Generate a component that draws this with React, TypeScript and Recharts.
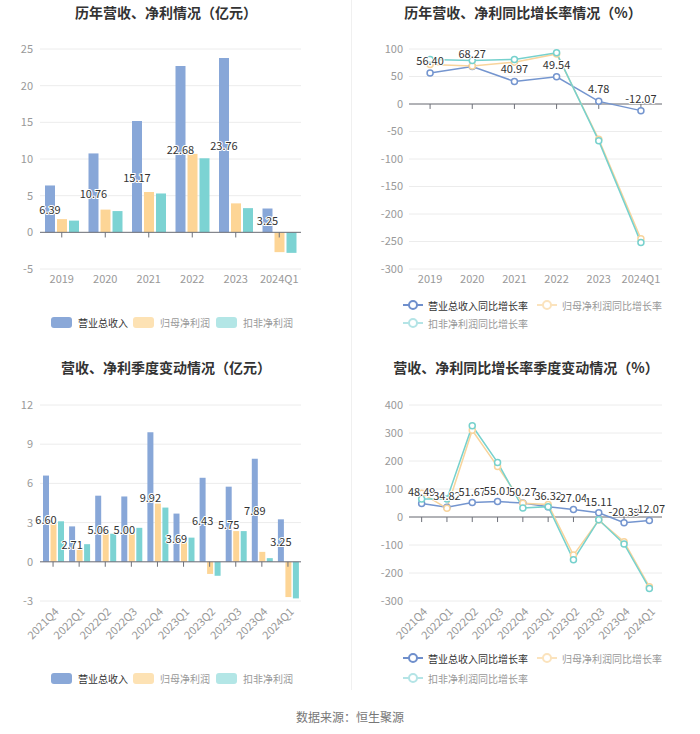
import {
  ComposedChart,
  Bar,
  Line,
  XAxis,
  YAxis,
  CartesianGrid,
  ReferenceLine,
  LabelList,
} from 'recharts'

// 年度数据（亿元）
const years = ['2019', '2020', '2021', '2022', '2023', '2024Q1']
const yearRevenue = [6.39, 10.76, 15.17, 22.68, 23.76, 3.25]
const yearNetProfit = [1.8, 3.1, 5.5, 10.7, 3.95, -2.7]
const yearDeducted = [1.6, 2.9, 5.3, 10.1, 3.3, -2.8]

// 年度同比（%）
const yearRevenueGrowth = [56.4, 68.27, 40.97, 49.54, 4.78, -12.07]
const yearNetGrowth = [72, 69, 76, 91, -64, -245]
const yearDeductedGrowth = [81, 79, 81, 93, -67, -252]

// 季度数据（亿元）
const quarters = ['2021Q4', '2022Q1', '2022Q2', '2022Q3', '2022Q4', '2023Q1', '2023Q2', '2023Q3', '2023Q4', '2024Q1']
const qRevenue = [6.6, 2.71, 5.06, 5.0, 9.92, 3.69, 6.43, 5.75, 7.89, 3.25]
const qNetProfit = [3.0, 1.1, 2.35, 2.25, 4.45, 1.55, -0.93, 2.35, 0.76, -2.7]
const qDeducted = [3.1, 1.35, 2.15, 2.6, 4.15, 1.85, -1.07, 2.35, 0.28, -2.8]

// 季度同比（%）
const qRevenueGrowth = [48.49, 34.82, 51.67, 55.01, 50.27, 36.32, 27.04, 15.11, -20.39, -12.07]
const qNetGrowth = [85, 31, 310, 180, 49, 45, -136, -11, -88, -249]
const qDeductedGrowth = [64, 64, 326, 195, 32, 37, -153, -10, -96, -255]

const yearTicks = [-5, 0, 5, 10, 15, 20, 25]
const yearGrowthTicks = [-300, -250, -200, -150, -100, -50, 0, 50, 100]
const qTicks = [-3, 0, 3, 6, 9, 12]
const qGrowthTicks = [-300, -200, -100, 0, 100, 200, 300, 400]

const BLUE = '#88a7d8'
const ORANGE = '#fdd596'
const TEAL = '#7cd3d3'
const BLUE_LINE = '#7495cf'
const ORANGE_LINE = '#f8d49c'
const TEAL_LINE = '#76d1cd'
const FONT = '"Noto Sans CJK SC", "Noto Sans", sans-serif'

const build = (cats: string[], a: number[], b: number[], c: number[]) =>
  cats.map((name, i) => ({ name, revenue: a[i], net: b[i], deducted: c[i] }))

const yearBars = build(years, yearRevenue, yearNetProfit, yearDeducted)
const yearLines = build(years, yearRevenueGrowth, yearNetGrowth, yearDeductedGrowth)
const qBars = build(quarters, qRevenue, qNetProfit, qDeducted)
const qLines = build(quarters, qRevenueGrowth, qNetGrowth, qDeductedGrowth)

const barLabel = (props: any) => {
  const { x, y, width, height, value } = props
  return (
    <text
      x={x + width / 2}
      y={y + height / 2}
      textAnchor="middle"
      dominantBaseline="central"
      fontSize={11}
      fill="#333"
      stroke="#fff"
      strokeWidth={2}
      paintOrder="stroke"
    >
      {Number(value).toFixed(2)}
    </text>
  )
}

const lineLabel = (lift: number) => (props: any) => {
  const { x, y, value } = props
  return (
    <text
      x={x}
      y={y - lift}
      textAnchor="middle"
      fontSize={11}
      fill="#333"
      stroke="#fff"
      strokeWidth={2}
      paintOrder="stroke"
    >
      {Number(value).toFixed(2)}
    </text>
  )
}

const RotatedTick = (props: any) => {
  const { x, y, payload } = props
  return (
    <text
      x={x + 3}
      y={y}
      transform={`rotate(-45 ${x + 3} ${y})`}
      textAnchor="end"
      dominantBaseline="central"
      fontSize={11}
      fill="#999"
    >
      {payload.value}
    </text>
  )
}

const axisTick = { fill: '#999', fontSize: 11 }

interface PanelProps {
  data: any[]
  ticks: number[]
  tickLen: number
  rotated?: boolean
}

function Bars({ data, ticks, tickLen, rotated, barSize, barGap }: PanelProps & { barSize: number; barGap: number }) {
  return (
    <ComposedChart
      width={350}
      height={300}
      data={data}
      margin={{ top: 49, right: 49, left: 0, bottom: 0 }}
      barGap={barGap}
      style={{ fontFamily: FONT }}
    >
      <CartesianGrid vertical={false} stroke="#ececec" />
      <XAxis
        dataKey="name"
        height={rotated ? 55 : 31}
        axisLine={false}
        tickLine={false}
        tickSize={0}
        tickMargin={rotated ? 8 : 6}
        interval={0}
        tick={rotated ? <RotatedTick /> : axisTick}
      />
      <YAxis
        width={40}
        domain={[ticks[0], ticks[ticks.length - 1]]}
        ticks={ticks}
        axisLine={false}
        tickLine={false}
        tickSize={0}
        tickMargin={7}
        tick={axisTick}
      />
      <ReferenceLine y={0} stroke="#6e7079" />
      {data.map(d => (
        <ReferenceLine
          key={d.name}
          segment={[{ x: d.name, y: 0 }, { x: d.name, y: -tickLen }]}
          stroke="#6e7079"
        />
      ))}
      <Bar dataKey="revenue" fill={BLUE} barSize={barSize} isAnimationActive={false}>
        <LabelList dataKey="revenue" content={barLabel} />
      </Bar>
      <Bar dataKey="net" fill={ORANGE} barSize={barSize} isAnimationActive={false} />
      <Bar dataKey="deducted" fill={TEAL} barSize={barSize} isAnimationActive={false} />
    </ComposedChart>
  )
}

function Lines({ data, ticks, tickLen, rotated, lift }: PanelProps & { lift: number }) {
  const dot = (color: string) => ({ r: 3, fill: '#fff', stroke: color, strokeWidth: 1.5 })
  return (
    <ComposedChart
      width={350}
      height={300}
      data={data}
      margin={{ top: 49, right: 38, left: 0, bottom: 0 }}
      style={{ fontFamily: FONT }}
    >
      <CartesianGrid vertical={false} stroke="#ececec" />
      <XAxis
        dataKey="name"
        scale="band"
        height={rotated ? 55 : 31}
        axisLine={false}
        tickLine={false}
        tickSize={0}
        tickMargin={rotated ? 8 : 6}
        interval={0}
        tick={rotated ? <RotatedTick /> : axisTick}
      />
      <YAxis
        width={59}
        domain={[ticks[0], ticks[ticks.length - 1]]}
        ticks={ticks}
        axisLine={false}
        tickLine={false}
        tickSize={0}
        tickMargin={6}
        tick={axisTick}
      />
      <ReferenceLine y={0} stroke="#6e7079" />
      {data.map(d => (
        <ReferenceLine
          key={d.name}
          segment={[{ x: d.name, y: 0 }, { x: d.name, y: -tickLen }]}
          stroke="#6e7079"
        />
      ))}
      <Line
        dataKey="revenue"
        stroke={BLUE_LINE}
        strokeWidth={1.5}
        dot={dot(BLUE_LINE)}
        isAnimationActive={false}
      />
      <Line
        dataKey="net"
        stroke={ORANGE_LINE}
        strokeWidth={1.5}
        dot={dot(ORANGE_LINE)}
        isAnimationActive={false}
      />
      <Line
        dataKey="deducted"
        stroke={TEAL_LINE}
        strokeWidth={1.5}
        dot={dot(TEAL_LINE)}
        isAnimationActive={false}
      />
      <Line dataKey="revenue" stroke="none" dot={false} activeDot={false} isAnimationActive={false}>
        <LabelList dataKey="revenue" content={lineLabel(lift)} />
      </Line>
    </ComposedChart>
  )
}

const barLegend = [
  { name: '营业总收入', color: '#8aa8d8', text: '#333' },
  { name: '归母净利润', color: '#fde2b4', text: '#999' },
  { name: '扣非净利润', color: '#b3e6e6', text: '#999' },
]

const lineLegend = [
  { name: '营业总收入同比增长率', color: '#6f8fcc', text: '#333' },
  { name: '归母净利润同比增长率', color: '#fbe3bd', text: '#999' },
  { name: '扣非净利润同比增长率', color: '#b4e4e6', text: '#999' },
]

function BarLegend({ top }: { top: number }) {
  const xs = [51, 133, 216]
  return (
    <>
      {barLegend.map((item, i) => (
        <div
          key={item.name}
          style={{ position: 'absolute', left: xs[i], top: top - 7, display: 'flex', alignItems: 'center', height: 14 }}
        >
          <div style={{ width: 21, height: 11, borderRadius: 3, background: item.color }} />
          <span style={{ marginLeft: 6, fontSize: 10, color: item.text, whiteSpace: 'nowrap' }}>{item.name}</span>
        </div>
      ))}
    </>
  )
}

function LineIcon({ color }: { color: string }) {
  return (
    <svg width={20} height={12} style={{ display: 'block' }}>
      <line x1={0} y1={6} x2={20} y2={6} stroke={color} strokeWidth={2} />
      <circle cx={10} cy={6} r={4} fill="#fff" stroke={color} strokeWidth={2} />
    </svg>
  )
}

function LineLegend({ left, top1, top2 }: { left: number; top1: number; top2: number }) {
  const pos = [
    { x: left, y: top1 },
    { x: left + 134, y: top1 },
    { x: left, y: top2 },
  ]
  return (
    <>
      {lineLegend.map((item, i) => (
        <div
          key={item.name}
          style={{ position: 'absolute', left: pos[i].x, top: pos[i].y - 7, display: 'flex', alignItems: 'center', height: 14 }}
        >
          <LineIcon color={item.color} />
          <span style={{ marginLeft: 5, fontSize: 10, color: item.text, whiteSpace: 'nowrap' }}>{item.name}</span>
        </div>
      ))}
    </>
  )
}

function Title({ text, cx, cy }: { text: string; cx: number; cy: number }) {
  return (
    <div
      style={{
        position: 'absolute',
        left: cx - 175,
        width: 350,
        top: cy - 10,
        height: 20,
        lineHeight: '20px',
        textAlign: 'center',
        fontSize: 14,
        fontWeight: 'bold',
        color: '#333',
      }}
    >
      {text}
    </div>
  )
}

export default function App() {
  return (
    <div
      style={{
        position: 'absolute',
        left: 0,
        top: 0,
        width: 700,
        height: 734,
        background: '#fff',
        fontFamily: FONT,
        overflow: 'hidden',
      }}
    >
      <div style={{ position: 'absolute', left: 351, top: 0, width: 1, height: 690, background: '#f0f0f0' }} />

      <Title text="历年营收、净利情况（亿元）" cx={166} cy={12} />
      <Title text="历年营收、净利同比增长率情况（%）" cx={523} cy={12} />
      <Title text="营收、净利季度变动情况（亿元）" cx={166} cy={367} />
      <Title text="营收、净利同比增长率季度变动情况（%）" cx={526} cy={367} />

      <div style={{ position: 'absolute', left: 0, top: 0 }}>
        <Bars data={yearBars} ticks={yearTicks} tickLen={0.7} barSize={10} barGap={2} />
      </div>
      <div style={{ position: 'absolute', left: 350, top: 0 }}>
        <Lines data={yearLines} ticks={yearGrowthTicks} tickLen={9} lift={8} />
      </div>
      <div style={{ position: 'absolute', left: 0, top: 356 }}>
        <Bars data={qBars} ticks={qTicks} tickLen={0.38} barSize={6} barGap={1.5} rotated />
      </div>
      <div style={{ position: 'absolute', left: 350, top: 356 }}>
        <Lines data={qLines} ticks={qGrowthTicks} tickLen={18} lift={7} rotated />
      </div>

      <BarLegend top={322} />
      <LineLegend left={403} top1={305} top2={323} />
      <BarLegend top={678} />
      <LineLegend left={403} top1={658} top2={678} />

      <div
        style={{
          position: 'absolute',
          left: 0,
          width: 700,
          top: 708,
          height: 18,
          lineHeight: '18px',
          textAlign: 'center',
          fontSize: 12,
          color: '#777',
        }}
      >
        数据来源：恒生聚源
      </div>
    </div>
  )
}
